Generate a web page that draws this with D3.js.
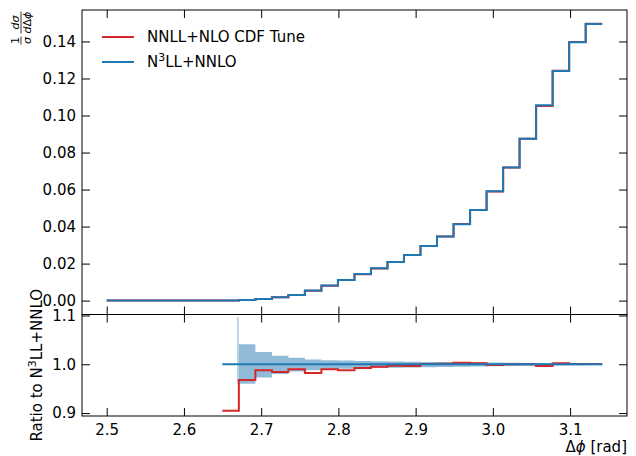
<!DOCTYPE html>
<html>
<head>
<meta charset="utf-8">
<script src="https://cdn.jsdelivr.net/npm/d3@7"></script>
<style>
  body { margin: 0; background: #fff; }
  svg { display: block; font-family: "DejaVu Sans", sans-serif; }
</style>
</head>
<body>
<div id="chart"></div>
<script>
// Bin edges (Δφ, rad), 30 bins from 2.5 to π.
const edges = [
  2.5000, 2.5214, 2.5428, 2.5642, 2.5855, 2.6069, 2.6283, 2.6497, 2.6711, 2.6925,
  2.7139, 2.7352, 2.7566, 2.7780, 2.7994, 2.8208, 2.8422, 2.8636, 2.8849, 2.9063,
  2.9277, 2.9491, 2.9705, 2.9919, 3.0133, 3.0346, 3.0560, 3.0774, 3.0988, 3.1202,
  3.1416
];

// Normalised distributions, one value per bin.
const n3llTop = [
  0, 0, 0, 0, 0, 0, 0, 0.0001, 0.0004, 0.0009,
  0.0018, 0.0031, 0.0054, 0.0081, 0.0112, 0.0144, 0.0175, 0.0209, 0.0247, 0.0295,
  0.0347, 0.0413, 0.0489, 0.0591, 0.0719, 0.0875, 0.1055, 0.1240, 0.1396, 0.1495
];
const nnllTop = [
  0, 0, 0, 0, 0, 0, 0, 0.0001, 0.0004, 0.0009,
  0.0018, 0.0031, 0.0053, 0.0080, 0.0111, 0.0143, 0.0174, 0.0208, 0.0246, 0.0295,
  0.0347, 0.0414, 0.0490, 0.0590, 0.0719, 0.0875, 0.1051, 0.1242, 0.1397, 0.1496
];

// Ratio to N3LL+NNLO, bins 7..29.
const ratioEdges = edges.slice(7);
const nnllRatio = [
  0.905, 0.968, 0.988, 0.984, 0.990, 0.982, 0.990, 0.988, 0.9925, 0.995,
  0.997, 0.9965, 1.0005, 1.001, 1.003, 1.002, 0.9985, 1.000, 1.000, 0.9965,
  1.002, 1.0005, 1.0005
];

// Uncertainty band of N3LL+NNLO (first entry is the narrow spike at 2.67).
const bandEdges = [
  2.6688, 2.6711, 2.6925, 2.7139, 2.7352, 2.7566, 2.7780, 2.7994, 2.8208, 2.8422,
  2.8636, 2.8849, 2.9063, 2.9277, 2.9491, 2.9705, 2.9919, 3.0133, 3.0346, 3.0560,
  3.0774, 3.0988, 3.1202, 3.1416
];
const bandHi = [
  1.097, 1.041, 1.025, 1.0175, 1.0135, 1.010, 1.0085, 1.0075, 1.0065, 1.006,
  1.0055, 1.005, 1.0048, 1.0045, 1.0042, 1.004, 1.0035, 1.003, 1.0028, 1.0025,
  1.0023, 1.0022, 1.002
];
const bandLo = [
  0.960, 0.960, 0.973, 0.980, 0.985, 0.988, 0.990, 0.991, 0.992, 0.9925,
  0.993, 0.9935, 0.994, 0.9945, 0.995, 0.9955, 0.996, 0.9965, 0.997, 0.9972,
  0.9975, 0.9977, 0.998
];

const xTicks = [2.5, 2.6, 2.7, 2.8, 2.9, 3.0, 3.1];
const yTicksTop = [0, 0.02, 0.04, 0.06, 0.08, 0.10, 0.12, 0.14];
const yTicksRatio = [0.9, 1.0, 1.1];

const RED = "#d62728";
const BLUE = "#1f77b4";

/**
 * Layout.
 */
const width = 636, height = 456;
const left = 82, right = 627;
const topY0 = 10, topY1 = 314.5, botY1 = 416;

const svg = d3.select("#chart").append("svg")
  .attr("width", width)
  .attr("height", height);

const x = d3.scaleLinear().domain([2.468, 3.1737]).range([left, right]);
const yTop = d3.scaleLinear().domain([-0.0075, 0.157]).range([topY1, topY0]);
const yRat = d3.scaleLinear().domain([0.894, 1.102]).range([botY1, topY1]);

// Step points: each value holds until the next edge.
const stepPoints = (xs, vs) => xs.map((e, i) => [e, vs[Math.min(i, vs.length - 1)]]);

const lineTop = d3.line().x((d) => x(d[0])).y((d) => yTop(d[1])).curve(d3.curveStepAfter);
const lineRat = d3.line().x((d) => x(d[0])).y((d) => yRat(d[1])).curve(d3.curveStepAfter);

/**
 * Top panel.
 */
const gTop = svg.append("g");
gTop.append("path")
  .datum(stepPoints(edges, nnllTop))
  .attr("d", lineTop)
  .attr("fill", "none").attr("stroke", RED).attr("stroke-width", 2);
gTop.append("path")
  .datum(stepPoints(edges, n3llTop))
  .attr("d", lineTop)
  .attr("fill", "none").attr("stroke", BLUE).attr("stroke-width", 2);

/**
 * Ratio panel.
 */
const gBot = svg.append("g");
const bandPts = bandEdges.map((e, i) => ({
  x: e,
  lo: bandLo[Math.min(i, bandLo.length - 1)],
  hi: bandHi[Math.min(i, bandHi.length - 1)],
}));
gBot.append("path")
  .datum(bandPts.slice(0, 2))
  .attr("d", d3.area().x((d) => x(d.x)).y0((d) => yRat(d.lo)).y1((d) => yRat(d.hi)).curve(d3.curveStepAfter))
  .attr("fill", BLUE).attr("fill-opacity", 0.32);
gBot.append("path")
  .datum(bandPts.slice(1))
  .attr("d", d3.area().x((d) => x(d.x)).y0((d) => yRat(d.lo)).y1((d) => yRat(d.hi)).curve(d3.curveStepAfter))
  .attr("fill", BLUE).attr("fill-opacity", 0.5);
gBot.append("path")
  .datum(stepPoints(ratioEdges, nnllRatio))
  .attr("d", lineRat)
  .attr("fill", "none").attr("stroke", RED).attr("stroke-width", 2);
gBot.append("line")
  .attr("x1", x(ratioEdges[0])).attr("x2", x(ratioEdges[ratioEdges.length - 1]))
  .attr("y1", yRat(1)).attr("y2", yRat(1))
  .attr("stroke", BLUE).attr("stroke-width", 2);

/**
 * Axes: inward ticks on all four sides.
 */
function styleAxis(g) {
  g.select(".domain").remove();
  g.selectAll(".tick line").attr("stroke", "#000").attr("stroke-width", 1);
  g.selectAll(".tick text").attr("fill", "#000").style("font-size", "15px")
    .style("font-family", "DejaVu Sans");
}

function frame(y0, y1, yScale, yTicks, yFmt, xLabels) {
  svg.append("g").attr("transform", `translate(0,${y1})`)
    .call(d3.axisBottom(x).tickValues(xTicks).tickSize(-8).tickPadding(8)
      .tickFormat(xLabels ? d3.format(".1f") : ""))
    .call(styleAxis);
  svg.append("g").attr("transform", `translate(0,${y0})`)
    .call(d3.axisTop(x).tickValues(xTicks).tickSize(-8).tickFormat(""))
    .call(styleAxis);
  svg.append("g").attr("transform", `translate(${left},0)`)
    .call(d3.axisLeft(yScale).tickValues(yTicks).tickSize(-8).tickPadding(6).tickFormat(yFmt))
    .call(styleAxis);
  svg.append("g").attr("transform", `translate(${right},0)`)
    .call(d3.axisRight(yScale).tickValues(yTicks).tickSize(-8).tickFormat(""))
    .call(styleAxis);
  svg.append("rect")
    .attr("x", left).attr("y", y0)
    .attr("width", right - left).attr("height", y1 - y0)
    .attr("fill", "none").attr("stroke", "#000").attr("stroke-width", 1);
}

frame(topY0, topY1, yTop, yTicksTop, d3.format(".2f"), false);
frame(topY1, botY1, yRat, yTicksRatio, d3.format(".1f"), true);

/**
 * Labels.
 */
// x label
const xl = svg.append("text")
  .attr("x", right).attr("y", 452)
  .attr("text-anchor", "end")
  .style("font-size", "15px");
xl.append("tspan").text("Δ");
xl.append("tspan").style("font-style", "italic").text("ϕ");
xl.append("tspan").text(" [rad]");

// ratio y label
const rl = svg.append("text")
  .attr("transform", `translate(42,${(topY1 + botY1) / 2}) rotate(-90)`)
  .attr("text-anchor", "middle")
  .style("font-size", "15px");
rl.append("tspan").text("Ratio to N");
rl.append("tspan").attr("dy", -6).style("font-size", "11px").text("3");
rl.append("tspan").attr("dy", 6).text("LL+NNLO");

// top y label: 1/σ dσ/dΔφ as stacked fractions
const fl = svg.append("g")
  .attr("transform", "translate(21,45) rotate(-90)")
  .style("font-size", "11px");
function fraction(g, x0, w, num, den) {
  g.append("text").attr("x", x0 + w / 2).attr("y", -2.5).attr("text-anchor", "middle").html(num);
  g.append("line").attr("x1", x0).attr("x2", x0 + w).attr("y1", 0).attr("y2", 0)
    .attr("stroke", "#000").attr("stroke-width", 0.8);
  g.append("text").attr("x", x0 + w / 2).attr("y", 9.5).attr("text-anchor", "middle").html(den);
}
fraction(fl, 0.5, 8, "1", "<tspan font-style='italic'>σ</tspan>");
fraction(fl, 11.5, 22, "<tspan font-style='italic'>dσ</tspan>",
  "<tspan font-style='italic'>d</tspan>Δ<tspan font-style='italic'>ϕ</tspan>");

/**
 * Legend.
 */
const legendItems = [
  { color: RED, y: 37, label: "NNLL+NLO CDF Tune" },
  { color: BLUE, y: 62, label: null },
];
const lg = svg.append("g");
legendItems.forEach((d) => {
  lg.append("line")
    .attr("x1", 102).attr("x2", 134).attr("y1", d.y).attr("y2", d.y)
    .attr("stroke", d.color).attr("stroke-width", 2);
});
lg.append("text").attr("x", 147).attr("y", 37).attr("dy", "0.35em")
  .style("font-size", "15px").text(legendItems[0].label);
const l2 = lg.append("text").attr("x", 147).attr("y", 62).attr("dy", "0.35em")
  .style("font-size", "15px");
l2.append("tspan").text("N");
l2.append("tspan").attr("dy", -6).style("font-size", "11px").text("3");
l2.append("tspan").attr("dy", 6).text("LL+NNLO");
</script>
</body>
</html>
